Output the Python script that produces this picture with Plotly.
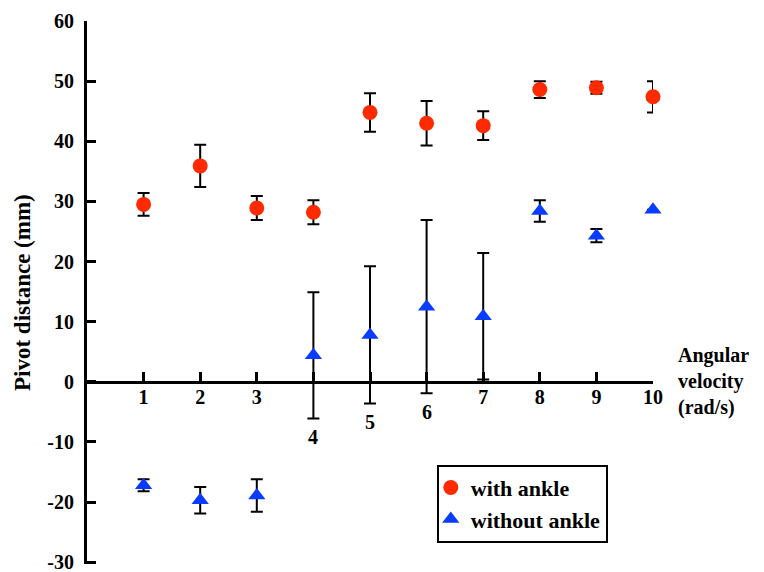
import plotly.graph_objects as go

# Angular velocity steps (rad/s)
velocity = [1, 2, 3, 4, 5, 6, 7, 8, 9, 10]

# Pivot distance (mm), mean and error for each condition
with_ankle = [29.5, 35.9, 28.9, 28.2, 44.8, 43.0, 42.6, 48.6, 48.9, 47.4]
with_ankle_err = [1.9, 3.5, 2.0, 2.0, 3.2, 3.7, 2.4, 1.4, 1.0, 2.6]

without_ankle = [-17.2, -19.7, -18.9, 4.4, 7.8, 12.5, 10.9, 28.4, 24.3, 28.6]
without_ankle_err = [1.0, 2.2, 2.7, 10.5, 11.4, 14.4, 10.5, 1.8, 1.1, 0.0]

y_ticks = [-30, -20, -10, 0, 10, 20, 30, 40, 50, 60]
y_tick_text = [str(v) for v in y_ticks]  # plain hyphen minus
# labels drawn lower, below the long error bars
dropped_labels = [4, 5, 6]

FONT = "Liberation Serif, Times New Roman, Times, serif"
RED = "#ff2a00"
BLUE = "#0a3cff"

fig = go.Figure()

fig.add_trace(go.Scatter(
    x=velocity, y=with_ankle, mode="markers", name="with ankle",
    marker=dict(symbol="circle", size=15, color=RED),
    error_y=dict(type="data", array=with_ankle_err, color="black",
                 thickness=2, width=6),
    cliponaxis=False,
))

fig.add_trace(go.Scatter(
    x=velocity, y=without_ankle, mode="markers", name="without ankle",
    marker=dict(symbol="triangle-up", size=15, color=BLUE),
    error_y=dict(type="data", array=without_ankle_err, color="black",
                 thickness=2, width=6),
    cliponaxis=False,
))

y_min, y_max = -30.3, 60
zero_pos = (0 - y_min) / (y_max - y_min)

tick_text = ["" if v in dropped_labels else str(v) for v in velocity]

fig.update_layout(
    width=764, height=572,
    margin=dict(l=87, r=111, t=21, b=8),
    paper_bgcolor="white", plot_bgcolor="white",
    font=dict(family=FONT, size=20, color="black"),
    showlegend=True,
    legend=dict(
        x=0.618, y=0.183, xanchor="left", yanchor="top",
        bordercolor="black", borderwidth=2, bgcolor="white",
        font=dict(family=FONT, size=22, color="black", weight="bold"),
        indentation=-8, tracegroupgap=0,
    ),
    xaxis=dict(
        range=[0, 10], anchor="free", position=zero_pos,
        showline=True, linecolor="black", linewidth=3,
        ticks="inside", ticklen=9, tickwidth=3, tickcolor="black",
        tickvals=velocity, ticktext=tick_text, ticklabelstandoff=-4,
        tickfont=dict(family=FONT, size=20, color="black", weight="bold"),
        showgrid=False, zeroline=False, automargin=False,
    ),
    yaxis=dict(
        range=[y_min, y_max],
        showline=True, linecolor="black", linewidth=3,
        ticks="inside", ticklen=9, tickwidth=3, tickcolor="black",
        tickvals=y_ticks, ticktext=y_tick_text, ticklabelstandoff=6,
        ticklabeloverflow="allow",
        tickfont=dict(family=FONT, size=20, color="black", weight="bold"),
        showgrid=False, zeroline=False, automargin=False,
    ),
)

# x tick labels for 4-6 sit just under their error bars
for v in dropped_labels:
    i = velocity.index(v)
    fig.add_annotation(
        x=v, y=without_ankle[i] - without_ankle_err[i],
        xref="x", yref="y", text=f"<b>{v}</b>", showarrow=False,
        yanchor="top", yshift=-6,
        font=dict(family=FONT, size=20, color="black"),
    )

# y-axis title
fig.add_annotation(
    x=-0.114, y=0.50, xref="paper", yref="paper",
    xanchor="center", yanchor="middle",
    text="<b>Pivot distance (mm)</b>", textangle=-90, showarrow=False,
    font=dict(family=FONT, size=23, color="black"),
)

# x-axis title, to the right of the axis end
fig.add_annotation(
    x=1.04, y=zero_pos, xref="paper", yref="paper",
    text="<b>Angular<br>velocity<br>(rad/s)</b>", showarrow=False,
    xanchor="left", yanchor="middle", align="left",
    font=dict(family=FONT, size=20, color="black"),
)

fig.write_html("out.html")
